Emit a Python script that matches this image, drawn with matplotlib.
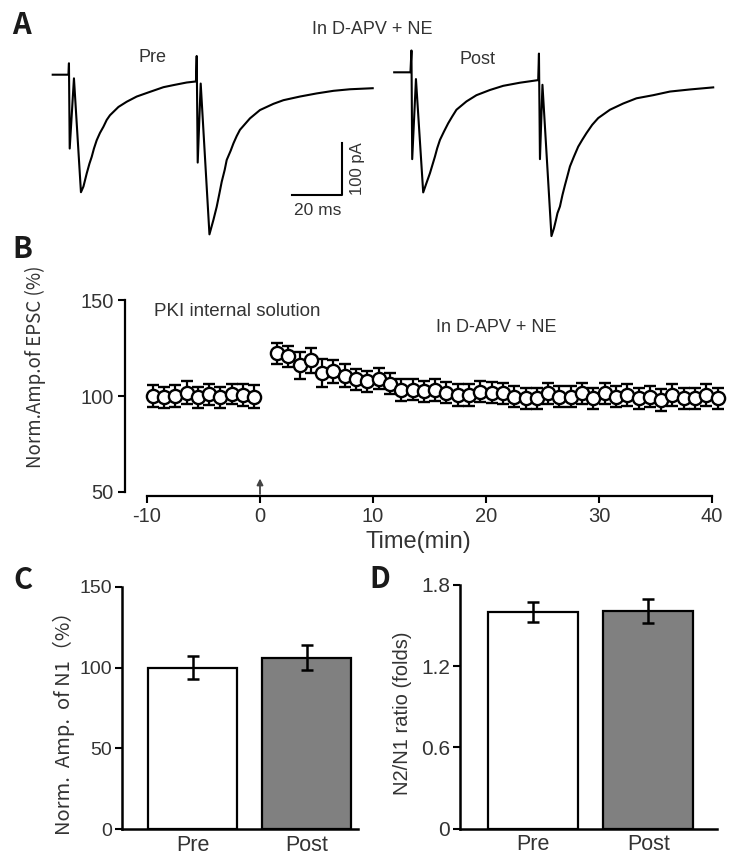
import numpy as np
import matplotlib
matplotlib.use("Agg")
import matplotlib.pyplot as plt

plt.rcParams['font.family'] = ['Liberation Sans', 'DejaVu Sans']
plt.rcParams['axes.unicode_minus'] = False

W, H = 740, 857

# ---- panel A: traces (ms, pA relative to baseline)
pre_t = [0, 6.3, 6.5, 6.8, 8.5, 11.3, 12.3, 13.6, 14.7, 15.6, 16.5, 17.6, 18.9, 20.3, 21.6,
         22.9, 26.3, 29.6, 33.6, 38.9, 44.3, 48.3, 53.6, 57.3, 57.6, 58.0, 59.2, 62.7, 64.3,
         65.6, 66.7, 67.6, 68.8, 69.6, 71.2, 72.3, 73.6, 74.9, 78.9, 82.9, 88.3, 92.3, 98.9,
         105.6, 112.3, 118.9, 128.0]
pre_i = [0, 0, 22, -142, -7, -226, -215, -190, -171, -158, -142, -126, -112, -100, -87,
         -78, -62, -52, -42, -33, -24, -20, -15, -13, 36, -169, -17, -307, -279,
         -254, -228, -206, -183, -164, -146, -132, -118, -106, -84, -68, -56, -49, -42,
         -36, -31, -28, -26]
post_t = [0, 6.5, 6.9, 7.2, 8.7, 11.6, 12.9, 14.3, 15.3, 16.3, 17.2, 18.3, 19.9, 21.6,
          23.2, 24.9, 28.9, 32.9, 38.3, 43.6, 50.3, 57.6, 57.9, 58.3, 59.3, 62.9, 63.9,
          64.7, 65.3, 66.3, 67.3, 68.3, 69.2, 70.3, 71.9, 73.6, 75.2, 76.9, 79.2, 81.6,
          86.3, 91.6, 96.9, 103.6, 110.3, 118.3, 127.6]
post_i = [0, 0, 42, -167, -13, -231, -213, -194, -178, -162, -146, -130, -114, -98,
          -85, -72, -56, -44, -34, -26, -20, -15, 36, -167, -24, -315, -300,
          -284, -271, -258, -236, -217, -201, -181, -162, -143, -130, -117, -101, -88,
          -72, -60, -50, -44, -37, -33, -29]

# ---- panel B
pre_time = [-9.5, -8.5, -7.5, -6.5, -5.5, -4.5, -3.5, -2.5, -1.5, -0.5]
pre_amp = [100, 99.3, 100, 101.7, 99.3, 101, 99.3, 101, 100.5, 99.6]
pre_sem = [5.5, 5.5, 5.5, 6, 5.5, 5.5, 5.5, 5, 5.5, 6]
post_time = [1.5 + k for k in range(40)]
post_amp = [122.3, 120.8, 116, 118.5, 112, 113, 110.5, 108.7, 107.7, 108.9,
            106.4, 103.1, 103.3, 102.5, 103.1, 101.7, 100.5, 100.5, 102.2, 101.7,
            101.4, 99.6, 98.8, 98.8, 101.4, 99.6, 99.6, 101.4, 98.8, 101.4,
            99.6, 100.5, 98.8, 99.6, 97.9, 100.5, 98.8, 98.8, 100.5, 98.8]
post_sem = [5.5, 5.5, 7, 6.5, 7.5, 6, 6, 5.5, 5.5, 5.5,
            5.5, 5.5, 5.5, 5.5, 5.5, 5.5, 5.5, 5.5, 5.5, 5.5,
            5.5, 5.5, 5.5, 5.5, 5.5, 5.5, 5.5, 5.5, 5.5, 5.5,
            5.5, 5.5, 5.5, 5.5, 5.5, 5.5, 5.5, 5.5, 5.5, 5.5]

# ---- panels C, D
groups = ['Pre', 'Post']
n1_amp = [100, 106]
n1_sem = [7.2, 7.7]
ratio = [1.60, 1.608]
ratio_sem = [0.072, 0.087]
bar_colors = ['white', '#808080']

TXT = '#333333'
CJK = ['Noto Sans CJK SC', 'DejaVu Sans']


def px_axes(l, t, r, b):
    return fig.add_axes([l / W, 1 - b / H, (r - l) / W, (b - t) / H])


def ftext(x, y, s, **kw):
    fig.text(x / W, 1 - y / H, s, ha='center', va='center', **kw)


def letter(x, y, s):
    ftext(x, y, s, fontsize=21, fontweight='black', family=CJK, color='#1a1a1a')


fig = plt.figure(figsize=(W / 100, H / 100), dpi=100)

# A
axA = px_axes(0, 0, W, 250)
axA.set_xlim(-52.7 / 2.5, (W - 52.7) / 2.5)
axA.set_ylim((74.7 - 250) / 0.52, 74.7 / 0.52)
axA.axis('off')
axA.plot(pre_t, pre_i, color='black', lw=1.5)
axA.plot(np.array(post_t) + 136.6, np.array(post_i) + 4.6, color='black', lw=1.5)
axA.plot([95.7, 115.7, 115.7], [-231, -231, -131], color='black', lw=1.5)
axA.text(106.1, -262, '20 ms', ha='center', va='center', fontsize=12.5, color=TXT)
axA.text(122, -181, '100 pA', ha='center', va='center', fontsize=12, color=TXT, rotation=90)

letter(22, 25, 'A')
ftext(372, 30, 'In D-APV + NE', fontsize=13, color=TXT)
ftext(152, 58, 'Pre', fontsize=13, color=TXT)
ftext(478, 60, 'Post', fontsize=13, color=TXT)

# B
axB = px_axes(125, 300, 712, 496)
axB.set_xlim(-10 - 22 / 11.3, 40)
axB.set_ylim(50 - 4 / 1.92, 150)
for s in ['top', 'right']:
    axB.spines[s].set_visible(False)
axB.spines['left'].set_bounds(50, 150)
axB.spines['bottom'].set_bounds(-10, 40)
for s in ['left', 'bottom']:
    axB.spines[s].set_linewidth(1.6)
axB.set_yticks([50, 100, 150])
axB.set_xticks([-10, 0, 10, 20, 30, 40])
axB.tick_params(width=1.5, length=5, labelsize=14.5, labelcolor=TXT, pad=3)
mk = dict(fmt='o', color='black', mfc='white', mec='black', ms=9.5, mew=1.7,
          elinewidth=1.6, capsize=4.5, capthick=1.6, clip_on=False)
axB.errorbar(pre_time, pre_amp, yerr=pre_sem, **mk)
axB.errorbar(post_time, post_amp, yerr=post_sem, **mk)
axB.annotate('', xy=(0, 58.5), xytext=(0, 47.5),
             arrowprops=dict(arrowstyle='-|>', color='#444444', lw=1.3, mutation_scale=9))
axB.set_ylabel('Norm.Amp.of EPSC (%)', fontsize=13.5, color=TXT, family=CJK)
axB.yaxis.set_label_coords(-0.134, 0.66)
axB.set_xlabel('Time(min)', fontsize=17, color=TXT)
axB.xaxis.set_label_coords(0.5, -0.18)
letter(22, 249, 'B')
ftext(237, 311, 'PKI internal solution', fontsize=13.5, color=TXT)
ftext(496, 327, 'In D-APV + NE', fontsize=13, color=TXT)


def bar_panel(ax, vals, errs, yticks, ylabel, lab_xy, lab_family, lab_size, tick_size):
    ax.bar([0, 1], vals, width=0.78, color=bar_colors, edgecolor='black', linewidth=1.6, zorder=2)
    ax.errorbar([0, 1], vals, yerr=errs, fmt='none', ecolor='black', elinewidth=1.8,
                capsize=4, capthick=1.8, zorder=3)
    for s in ['top', 'right']:
        ax.spines[s].set_visible(False)
    for s in ['left', 'bottom']:
        ax.spines[s].set_linewidth(1.8)
    ax.set_yticks(yticks)
    ax.set_xticks([0, 1])
    ax.set_xticklabels(groups)
    ax.tick_params(axis='y', width=1.5, length=5, labelsize=tick_size, labelcolor=TXT, pad=2)
    ax.tick_params(axis='x', length=0, labelsize=15.5, labelcolor=TXT, pad=4)
    ax.set_ylabel(ylabel, fontsize=lab_size, color=TXT, family=lab_family)
    ax.yaxis.set_label_coords(*lab_xy)


axC = px_axes(121.7, 586.7, 358, 829.3)
axC.set_xlim(-0.624, 1.45)
axC.set_ylim(0, 150)
bar_panel(axC, n1_amp, n1_sem, [0, 50, 100, 150], 'Norm.  Amp.  of N1（%）', (-0.198, 0.459),
          CJK, 14.5, 14)
letter(23, 580, 'C')

axD = px_axes(460, 585, 716.7, 828.7)
axD.set_xlim(-0.637, 1.595)
axD.set_ylim(0, 1.8)
bar_panel(axD, ratio, ratio_sem, [0, 0.6, 1.2, 1.8], 'N2/N1 ratio (folds)', (-0.187, 0.475),
          ['Liberation Sans', 'DejaVu Sans'], 14.5, 15)
axD.set_yticklabels(['0', '0.6', '1.2', '1.8'])
letter(380, 579, 'D')

fig.savefig('out.png', dpi=100)
